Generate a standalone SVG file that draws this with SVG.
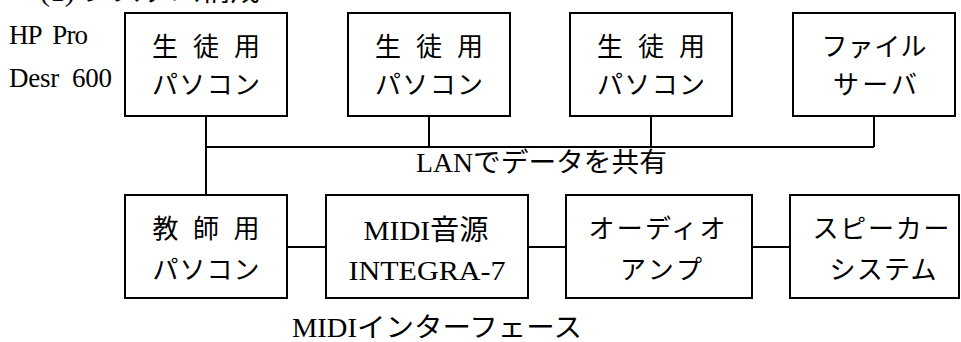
<svg xmlns="http://www.w3.org/2000/svg" width="961" height="342" viewBox="0 0 961 342">
<style>
.box{fill:#fff;stroke:#000;stroke-width:2}
.ln{stroke:#000;stroke-width:2;fill:none}
text{font-family:"Liberation Serif","Noto Sans CJK JP",serif;fill:#000}
.n{font-size:26px;text-anchor:middle}
.m{font-size:28px;text-anchor:middle}
.lbl{font-size:27px}
</style>
<rect width="961" height="342" fill="#fff"/>
<text class="lbl" x="40" y="1" textLength="220" lengthAdjust="spacingAndGlyphs">(1) システム構成</text>
<text class="lbl" x="9" y="44" textLength="79" lengthAdjust="spacing" xml:space="preserve">HP  Pro</text>
<text class="lbl" x="9" y="87" textLength="103" lengthAdjust="spacing" xml:space="preserve">Desr  600</text>
<g id="connectors">
<path class="ln" d="M206 116V195M206 147H874M429 116V147M651 116V147M874 116V147"/>
<path class="ln" d="M287 247H326M528 247H566M752 247H790"/>
</g>
<g id="student1">
<rect class="box" x="125" y="13" width="162" height="103"/>
<text class="n" x="206" y="56" textLength="108" lengthAdjust="spacing">生 徒 用</text>
<text class="n" x="206" y="94" textLength="108" lengthAdjust="spacing">パソコン</text>
</g>
<g id="student2">
<rect class="box" x="348" y="13" width="162" height="103"/>
<text class="n" x="429" y="56" textLength="108" lengthAdjust="spacing">生 徒 用</text>
<text class="n" x="429" y="94" textLength="108" lengthAdjust="spacing">パソコン</text>
</g>
<g id="student3">
<rect class="box" x="570" y="13" width="162" height="103"/>
<text class="n" x="651" y="56" textLength="108" lengthAdjust="spacing">生 徒 用</text>
<text class="n" x="651" y="94" textLength="108" lengthAdjust="spacing">パソコン</text>
</g>
<g id="fileserver">
<rect class="box" x="793" y="13" width="162" height="103"/>
<text class="n" x="874" y="56" textLength="105" lengthAdjust="spacing">ファイル</text>
<text class="n" x="875" y="94" textLength="84" lengthAdjust="spacing">サーバ</text>
</g>
<text class="lbl" x="416" y="172" textLength="251" lengthAdjust="spacingAndGlyphs">LANでデータを共有</text>
<g id="teacher">
<rect class="box" x="125" y="195" width="162" height="103"/>
<text class="n" x="206" y="238" textLength="107" lengthAdjust="spacing">教 師 用</text>
<text class="n" x="206" y="279" textLength="107" lengthAdjust="spacing">パソコン</text>
</g>
<g id="midi">
<rect class="box" x="326" y="195" width="202" height="103"/>
<text class="m" x="426" y="240" textLength="125" lengthAdjust="spacingAndGlyphs">MIDI音源</text>
<text class="m" x="427" y="280" textLength="157" lengthAdjust="spacingAndGlyphs">INTEGRA-7</text>
</g>
<g id="amp">
<rect class="box" x="566" y="195" width="186" height="103"/>
<text class="n" x="657" y="238" textLength="137" lengthAdjust="spacing">オーディオ</text>
<text class="n" x="661" y="279" textLength="82" lengthAdjust="spacing">アンプ</text>
</g>
<g id="speaker">
<rect class="box" x="790" y="195" width="169" height="103"/>
<text class="n" x="881" y="238" textLength="137" lengthAdjust="spacing">スピーカー</text>
<text class="n" x="883" y="279" textLength="107" lengthAdjust="spacing">システム</text>
</g>
<text class="lbl" x="292" y="337" textLength="290" lengthAdjust="spacingAndGlyphs">MIDIインターフェース</text>
</svg>
